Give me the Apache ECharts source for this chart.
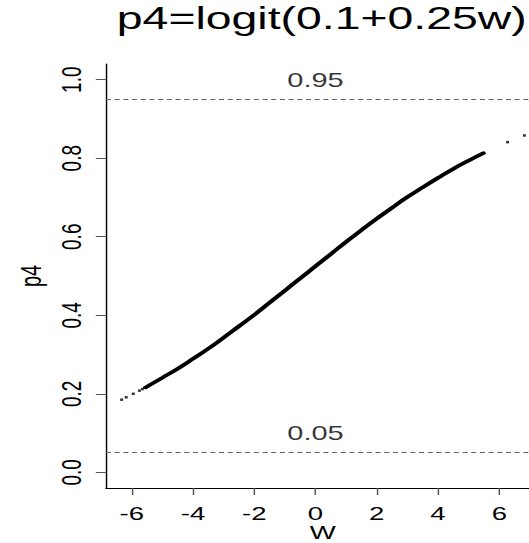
<!DOCTYPE html>
<html>
<head>
<meta charset="utf-8">
<script src="https://cdn.jsdelivr.net/npm/echarts@6/dist/echarts.min.js"></script>
<style>
  html, body { margin: 0; padding: 0; overflow: hidden; background: #fff; width: 529px; height: 543px; }
  /* drawn narrow, then widened to the page width */
  #chart { width: 373px; height: 543px; transform: scaleX(1.4493); transform-origin: 0 0; }
</style>
</head>
<body>
<div id="chart"></div>
<script>
const titleText = 'p4=logit(0.1+0.25w)';
const xName = 'W';
const yName = 'p4';
const xTicks = [-6, -4, -2, 0, 2, 4, 6];
const yTicks = [0, 0.2, 0.4, 0.6, 0.8, 1.0];
const refLines = [0.05, 0.95];

// dense band of points
const bandW = [-5.55, -5.0, -4.5, -4.0, -3.5, -3.0, -2.5, -2.0, -1.5, -1.0, -0.5, 0.0,
               0.5, 1.0, 1.5, 2.0, 2.5, 3.0, 3.5, 4.0, 4.5, 5.0, 5.48];
const bandP = [0.216, 0.241, 0.264, 0.289, 0.315, 0.343, 0.372, 0.401, 0.432, 0.463, 0.494, 0.525,
               0.556, 0.587, 0.617, 0.646, 0.674, 0.701, 0.726, 0.750, 0.773, 0.794, 0.813];
// isolated points at both ends
const tailW = [-6.33, -6.18, -5.95, -5.75, -5.65, 6.27, 6.82];
const tailP = [0.185, 0.191, 0.200, 0.208, 0.212, 0.841, 0.858];

const FONT = '"Liberation Sans", Arial, Helvetica, sans-serif';

const chart = echarts.init(document.getElementById('chart'), null, { renderer: 'svg' });

chart.setOption({
  animation: false,
  backgroundColor: '#fff',
  title: {
    text: titleText,
    left: 217,
    textAlign: 'center',
    top: -3,
    textStyle: { fontFamily: FONT, fontSize: 32, fontWeight: 'normal', color: '#000' }
  },
  grid: { left: 73.1, right: 0.6, top: 64, bottom: 55, containLabel: false, outerBoundsMode: 'none' },
  xAxis: {
    type: 'value',
    min: -6.842,
    max: 7.32,
    name: xName,
    nameLocation: 'middle',
    nameGap: 35,
    nameMoveOverlap: false,
    nameTextStyle: { fontFamily: FONT, fontSize: 19, color: '#000', lineHeight: 19 },
    axisLine: { onZero: false, lineStyle: { color: '#000', width: 1 } },
    axisTick: { customValues: xTicks, length: 7, lineStyle: { color: '#555' } },
    axisLabel: {
      customValues: xTicks,
      margin: 16,
      fontFamily: FONT, fontSize: 19, color: '#000',
      formatter: v => String(v)
    },
    splitLine: { show: false }
  },
  yAxis: {
    type: 'value',
    min: -0.04,
    max: 1.04,
    name: yName,
    nameLocation: 'middle',
    nameRotate: 90,
    nameGap: 42,
    nameMoveOverlap: false,
    nameTextStyle: { fontFamily: FONT, fontSize: 20, color: '#000' },
    axisLine: { show: true, onZero: false, lineStyle: { color: '#000', width: 1 } },
    axisTick: { customValues: yTicks, length: 7, lineStyle: { color: '#555' } },
    axisLabel: {
      customValues: yTicks,
      rotate: 90,
      margin: 14,
      fontFamily: FONT, fontSize: 19, color: '#000',
      formatter: v => v.toFixed(1)
    },
    splitLine: { show: false }
  },
  series: [
    {
      name: 'band',
      type: 'line',
      data: bandW.map((w, i) => [w, bandP[i]]),
      symbol: 'none',
      smooth: true,
      lineStyle: { color: '#000', width: 3.4, cap: 'round' },
      markLine: {
        silent: true,
        symbol: ['none', 'none'],
        label: { show: false },
        lineStyle: { color: '#666', type: [3.5, 2.5], width: 1 },
        data: refLines.map(v => ({ yAxis: v }))
      }
    },
    {
      name: 'tails',
      type: 'scatter',
      data: tailW.map((w, i) => [w, tailP[i]]),
      symbol: 'rect',
      symbolSize: [2, 2.5],
      itemStyle: { color: '#000' }
    },
    {
      name: 'refLabels',
      type: 'scatter',
      data: refLines.map(v => [0, v]),
      symbol: 'circle',
      symbolSize: 1,
      itemStyle: { color: 'rgba(0,0,0,0)' },
      silent: true,
      label: {
        show: true,
        position: 'inside',
        offset: [0, -20],
        fontFamily: FONT, fontSize: 20, color: '#000',
        textBorderWidth: 0,
        formatter: p => p.value[1].toFixed(2)
      }
    }
  ]
});
</script>
</body>
</html>
